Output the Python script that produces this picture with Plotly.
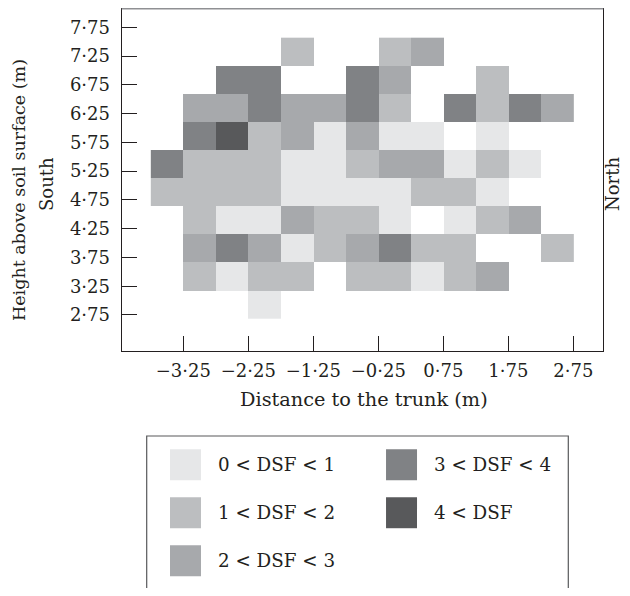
import plotly.graph_objects as go

# ---------------- data ----------------
# column centres (distance to trunk, m), 0.5 m wide cells
col_centres = [-3.5, -3.0, -2.5, -2.0, -1.5, -1.0, -0.5, 0.0, 0.5, 1.0, 1.5, 2.0, 2.5]
# row heights (m), top to bottom
row_heights = [7.25, 6.75, 6.25, 5.75, 5.25, 4.75, 4.25, 3.75, 3.25, 2.75]
N = None
# DSF class index per cell (0: 0-1, 1: 1-2, 2: 2-3, 3: 3-4, 4: >4), None = no data
dsf_class = [
    [N, N, N, N, 1, N, N, 1, 2, N, N, N, N],
    [N, N, 3, 3, N, N, 3, 2, N, N, 1, N, N],
    [N, 2, 2, 3, 2, 2, 3, 1, N, 3, 1, 3, 2],
    [N, 3, 4, 1, 2, 0, 2, 0, 0, N, 0, N, N],
    [3, 1, 1, 1, 0, 0, 1, 2, 2, 0, 1, 0, N],
    [1, 1, 1, 1, 0, 0, 0, 0, 1, 1, 0, N, N],
    [N, 1, 0, 0, 2, 1, 1, 0, N, 0, 1, 2, N],
    [N, 2, 3, 2, 0, 1, 2, 3, 1, 1, N, N, 1],
    [N, 1, 0, 1, 1, N, 1, 1, 0, 1, 2, N, N],
    [N, N, N, 0, N, N, N, N, N, N, N, N, N],
]
class_labels = ["0 < DSF < 1", "1 < DSF < 2", "2 < DSF < 3", "3 < DSF < 4", "4 < DSF"]
class_colors = ["#e6e7e8", "#bcbec0", "#a7a9ac", "#808285", "#58595b"]

x_tickvals = [-3.25, -2.25, -1.25, -0.25, 0.75, 1.75, 2.75]
x_ticktext = ["\u22123\u00b725", "\u22122\u00b725", "\u22121\u00b725", "\u22120\u00b725",
              "0\u00b775", "1\u00b775", "2\u00b775"]
y_tickvals = [2.75, 3.25, 3.75, 4.25, 4.75, 5.25, 5.75, 6.25, 6.75, 7.25, 7.75]
y_ticktext = ["2\u00b775", "3\u00b725", "3\u00b775", "4\u00b725", "4\u00b775", "5\u00b725",
              "5\u00b775", "6\u00b725", "6\u00b775", "7\u00b725", "7\u00b775"]

# ---------------- layout helpers ----------------
OFF = 8                          # page body margin of the html page
W, H = 630 - OFF, 596 - 2 * OFF  # figure size so that it fits the window
FONT = "DejaVu Serif"
TXT = "#231f20"

def px(x):
    return (x - OFF) / W

def py(y):
    return 1 - (y - OFF) / H

# discrete colorscale
n = len(class_colors)
cs = []
for i, c in enumerate(class_colors):
    cs.append([i / n, c])
    cs.append([(i + 1) / n, c])

fig = go.Figure()

# empty trace so the main (tick-label) axes form a subplot
fig.add_trace(go.Scatter(x=[], y=[], xaxis="x", yaxis="y", showlegend=False,
                         hoverinfo="skip"))

fig.add_trace(go.Heatmap(
    x=col_centres, y=row_heights, z=dsf_class,
    colorscale=cs, zmin=-0.5, zmax=n - 0.5, showscale=False,
    hoverinfo="skip", xaxis="x", yaxis="y3",
))

# legend swatches (custom legend panel)
leg_x = [i // 3 for i in range(n)]
leg_y = [i % 3 for i in range(n)]
fig.add_trace(go.Scatter(
    x=leg_x, y=leg_y, mode="markers",
    marker=dict(symbol="square", size=31, color=class_colors, line=dict(width=0)),
    hoverinfo="skip", showlegend=False, xaxis="x2", yaxis="y2",
))

annotations = []
for i, lab in enumerate(class_labels):
    annotations.append(dict(
        x=leg_x[i] + 0.142, y=leg_y[i], xref="x2", yref="y2", text=lab,
        showarrow=False, xanchor="left", yanchor="middle",
        font=dict(family=FONT, size=18.3, color=TXT),
    ))

annotations += [
    dict(x=px(19), y=py(190), xref="paper", yref="paper",
         text="Height above soil surface (m)", textangle=-90, showarrow=False,
         xanchor="center", yanchor="middle", font=dict(family=FONT, size=17.5, color=TXT)),
    dict(x=px(47), y=py(184), xref="paper", yref="paper",
         text="South", textangle=-90, showarrow=False,
         xanchor="center", yanchor="middle", font=dict(family=FONT, size=18, color=TXT)),
    dict(x=px(613), y=py(184), xref="paper", yref="paper",
         text="North", textangle=-90, showarrow=False,
         xanchor="center", yanchor="middle", font=dict(family=FONT, size=18, color=TXT)),
    dict(x=px(364), y=py(399), xref="paper", yref="paper",
         text="Distance to the trunk (m)", showarrow=False,
         xanchor="center", yanchor="middle", font=dict(family=FONT, size=19.3, color=TXT)),
]

L, R, T, B = 121.7, 603.3, 8.0, 351.0

shapes = [
    # top frame line (grey)
    dict(type="line", xref="paper", yref="paper", x0=px(L), x1=px(R), y0=py(T + 0.8), y1=py(T + 0.8),
         line=dict(color="#8f9093", width=1.6)),
    # legend box (open at the bottom, cut by the page edge)
    dict(type="path", xref="paper", yref="paper",
         path=f"M {px(146.7)} 0 L {px(146.7)} {py(436)} L {px(568.3)} {py(436)} L {px(568.3)} 0",
         line=dict(color="#58595b", width=1.2)),
]

fig.update_layout(
    width=W, height=H,
    margin=dict(l=0, r=0, t=0, b=0, autoexpand=False),
    paper_bgcolor="white", plot_bgcolor="white",
    showlegend=False,
    font=dict(family=FONT, size=18, color=TXT),
    xaxis=dict(
        domain=[px(L), px(R)], range=[-4.198, 3.21],
        tickvals=x_tickvals, ticktext=x_ticktext,
        ticks="inside", ticklen=15, tickwidth=1, tickcolor=TXT,
        showline=True, linecolor=TXT, linewidth=1.2,
        showgrid=False, zeroline=False, fixedrange=True, automargin=False,
        tickfont=dict(family=FONT, size=18, color=TXT),
        ticklabelstandoff=3, anchor="y",
    ),
    yaxis=dict(
        domain=[py(B), 1], range=[2.124, 8.085],
        tickvals=y_tickvals, ticktext=y_ticktext,
        ticks="inside", ticklen=15, tickwidth=1, tickcolor=TXT,
        showline=True, linecolor=TXT, linewidth=1.2, mirror=True,
        showgrid=False, zeroline=False, fixedrange=True, automargin=False,
        tickfont=dict(family=FONT, size=18, color=TXT),
        ticklabelstandoff=7, anchor="x",
    ),
    yaxis3=dict(
        overlaying="y", range=[1.917, 8.029], visible=False, fixedrange=True,
        anchor="x", automargin=False,
    ),
    xaxis2=dict(
        domain=[px(146.7), px(568.3)], range=[-0.1796, 1.772], visible=False,
        fixedrange=True, anchor="y2", automargin=False,
    ),
    yaxis2=dict(
        domain=[0, py(436)], range=[2.65 - 4 / 49.25, -0.599], visible=False,
        fixedrange=True, anchor="x2", automargin=False,
    ),
    annotations=annotations,
    shapes=shapes,
)

fig.write_html("out.html")
